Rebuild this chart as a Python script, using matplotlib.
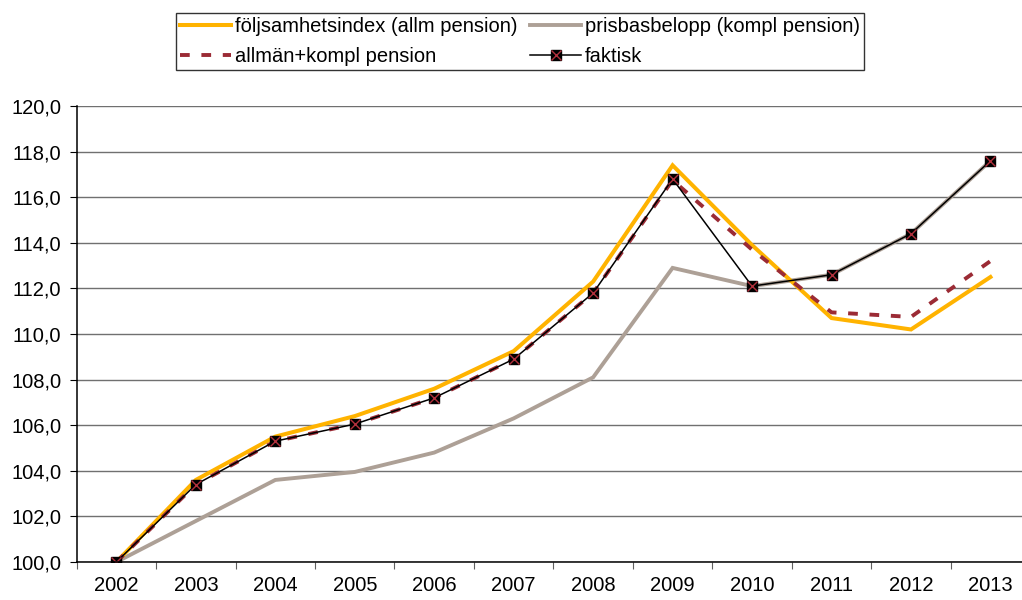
import matplotlib.pyplot as plt
import numpy as np
from matplotlib.ticker import FuncFormatter

plt.rcParams['font.family'] = ['Liberation Sans', 'DejaVu Sans']

years = ['2002', '2003', '2004', '2005', '2006', '2007',
         '2008', '2009', '2010', '2011', '2012', '2013']
foljsamhet = [100.0, 103.6, 105.5, 106.4, 107.6, 109.25,
              112.3, 117.4, 113.9, 110.7, 110.2, 112.5]
prisbas = [100.0, 101.8, 103.6, 103.95, 104.8, 106.3,
           108.1, 112.9, 112.1, 112.6, 114.4, 117.6]
allm_kompl = [100.0, 103.4, 105.3, 106.05, 107.2, 108.9,
              111.8, 116.75, 113.7, 110.95, 110.75, 113.2]
faktisk = [100.0, 103.4, 105.3, 106.05, 107.2, 108.9,
           111.8, 116.8, 112.1, 112.6, 114.4, 117.6]

x = np.arange(len(years))

fig = plt.figure(figsize=(10.22, 6), dpi=100)
# plot area runs a little past the right edge of the picture
ax = fig.add_axes([0.075, 0.0633, 0.933, 0.76])

# Horizontal grid
ax.set_axisbelow(True)
ax.grid(axis='y', color='#707070', linewidth=1)

# Series
l_pris, = ax.plot(x, prisbas, color='#ADA096', lw=2.8,
                  solid_joinstyle='miter', label='prisbasbelopp (kompl pension)')
l_folj, = ax.plot(x, foljsamhet, color='#FFB300', lw=2.9,
                  solid_joinstyle='miter', label='följsamhetsindex (allm pension)')
l_allm, = ax.plot(x, allm_kompl, color='#9B2B35', lw=2.8,
                  linestyle=(0, (2.5, 3)), label='allmän+kompl pension')
l_fakt, = ax.plot(x, faktisk, color='black', lw=1.1,
                  marker='s', ms=7, mfc='black', mec='black')
l_x, = ax.plot(x, faktisk, linestyle='none', marker='x', ms=7,
               mew=1.0, color='#B0303C')

# Axes
ax.set_ylim(100, 120)
ax.set_yticks(np.arange(100, 121, 2))
ax.yaxis.set_major_formatter(FuncFormatter(lambda v, p: f'{v:.1f}'.replace('.', ',')))
ax.set_xlim(-0.5, 11.5)

# ticks at category boundaries, labels at centers
ax.set_xticks(np.arange(-0.5, 12, 1))
ax.set_xticklabels([])
ax.set_xticks(x, minor=True)
ax.set_xticklabels(years, minor=True)
ax.tick_params(axis='x', which='major', length=5, direction='out', color='#606060')
ax.tick_params(axis='x', which='minor', length=0, pad=10, labelsize=14.5)
ax.tick_params(axis='y', length=5, direction='out', pad=6, labelsize=14.5)

ax.spines['top'].set_visible(False)
ax.spines['right'].set_visible(False)
ax.spines['left'].set_linewidth(1.1)
ax.spines['bottom'].set_linewidth(1.1)

# Legend (column-wise fill)
handles = [l_folj, l_allm, l_pris, (l_fakt, l_x)]
labels = ['följsamhetsindex (allm pension)', 'allmän+kompl pension',
          'prisbasbelopp (kompl pension)', 'faktisk']
leg = fig.legend(handles, labels, ncol=2, loc='upper left',
                 bbox_to_anchor=(176 / 1022, 1 - 13 / 600), borderaxespad=0,
                 fontsize=14.5, frameon=True, fancybox=False,
                 edgecolor='black', handlelength=2.5, handletextpad=0.2,
                 columnspacing=0.65, borderpad=0.22, labelspacing=0.52)
leg.get_frame().set_linewidth(1.0)

fig.savefig('out.png', dpi=100)
